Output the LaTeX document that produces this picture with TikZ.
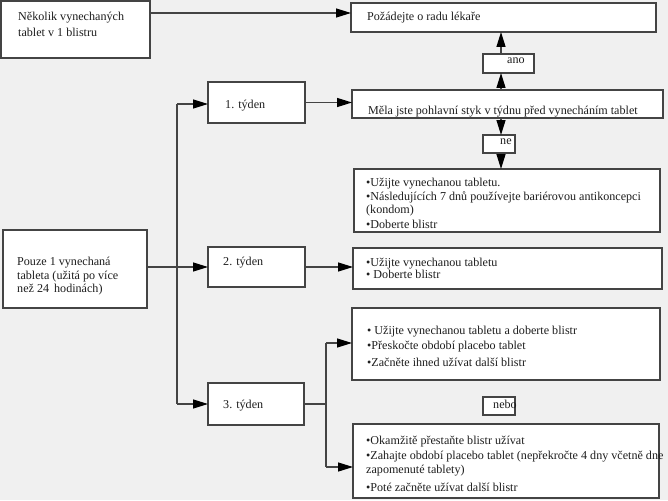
\documentclass[tikz,border=0pt]{standalone}
\usepackage{fontspec}
\setmainfont{Liberation Serif}
\usetikzlibrary{arrows.meta}
\definecolor{bg}{HTML}{F0F0F0}
\definecolor{edge}{HTML}{444444}
\definecolor{ink}{HTML}{1E1E1E}
\tikzset{
  box/.style={draw=edge, fill=white, line width=1.4pt, inner sep=0pt, outer sep=0pt, anchor=north west},
  txt/.style={font=\fontsize{12.1}{14}\selectfont, text=ink, inner sep=0pt, anchor=base west, yshift=-4pt},
  plain/.style={draw=edge, line width=1.3pt},
  conn/.style={plain, -{Triangle[length=15pt,width=9pt,color=black]}}
}
\begin{document}
\begin{tikzpicture}[x=1pt,y=-1pt]
\fill[bg] (0,0) rectangle (668,500);
\useasboundingbox (0,0) rectangle (668,500);

% boxes
\node[box, minimum width=149pt, minimum height=57pt] (A) at (1,1) {};
\node[box, minimum width=305pt, minimum height=29pt] (B) at (351,3) {};
\node[box, minimum width=51pt, minimum height=19pt] (ano) at (483,54) {};
\node[box, minimum width=97pt, minimum height=41pt] (w1) at (208,82) {};
\node[box, minimum width=311pt, minimum height=28pt] (M) at (352,90) {};
\node[box, minimum width=32pt, minimum height=18pt] (ne) at (483,135) {};
\node[box, minimum width=306pt, minimum height=63pt] (C) at (354,169) {};
\node[box, minimum width=144pt, minimum height=78pt] (D) at (3,230) {};
\node[box, minimum width=97pt, minimum height=40pt] (w2) at (208,247) {};
\node[box, minimum width=309pt, minimum height=41pt] (E) at (353,248) {};
\node[box, minimum width=308pt, minimum height=72pt] (F) at (352,308) {};
\node[box, minimum width=96pt, minimum height=42pt] (w3) at (208,383) {};
\node[box, minimum width=32pt, minimum height=18pt] (nebo) at (483,397) {};
\node[box, minimum width=306pt, minimum height=74pt] (G) at (353,424) {};

% texts
\node[txt] (tA1) at (18,17) {Několik vynechaných};
\node[txt] (tA2) at (18,33) {tablet v 1 blistru};
\node[txt] (tB) at (367,17) {Požádejte o radu lékaře};
\node[txt] (tano) at (507,60) {ano};
\node[txt] (tw1) at (225,104) {1. týden};
\node[txt] (tM) at (368,110) {Měla jste pohlavní styk v týdnu před vynecháním tablet};
\node[txt] (tne) at (500,140) {ne};
\node[txt] (tC1) at (366,182) {•Užijte vynechanou tabletu.};
\node[txt] (tC2) at (366,196) {•Následujících 7 dnů používejte bariérovou antikoncepci};
\node[txt] (tC3) at (366,209) {(kondom)};
\node[txt] (tC4) at (366,224) {•Doberte blistr};
\node[txt] (tD1) at (17,261) {Pouze 1 vynechaná};
\node[txt] (tD2) at (17,275) {tableta (užitá po více};
\node[txt] (tD3) at (17,288) {než 24\, hodinách)};
\node[txt] (tw2) at (223,261) {2. týden};
\node[txt] (tE1) at (366,262) {•Užijte vynechanou tabletu};
\node[txt] (tE2) at (366,274) {• Doberte blistr};
\node[txt] (tF1) at (367,330) {• Užijte vynechanou tabletu a doberte blistr};
\node[txt] (tF2) at (367,345) {•Přeskočte období placebo tablet};
\node[txt] (tF3) at (367,362) {•Začněte ihned užívat další blistr};
\node[txt] (tw3) at (223,404) {3. týden};
\node[txt] (tnebo) at (493,404) {nebo};
\node[txt] (tG1) at (366,440) {•Okamžitě přestaňte blistr užívat};
\node[txt] (tG2) at (366,455) {•Zahajte období placebo tablet (nepřekročte 4 dny včetně dne};
\node[txt] (tG3) at (366,469) {zapomenuté tablety)};
\node[txt] (tG4) at (366,487) {•Poté začněte užívat další blistr};

% helper coordinates
\coordinate (vx) at (501,0);
\coordinate (t1) at (177,104);
\coordinate (t3) at (177,404);
\coordinate (s) at (326,404);
\coordinate (sF) at (326,343);
\coordinate (sG) at (326,467);

% connectors
\draw[conn] ([yshift=-12pt]A.north east) -- ([yshift=-12pt]A.north east -| B.west);
\draw[conn] (M.north -| vx) -- (ano.south -| vx);
\draw[conn] (ano.north -| vx) -- (B.south -| vx);
\draw[conn] (w1.east) -- (w1.east -| M.west);
\draw[conn] (M.south -| vx) -- (ne.north -| vx);
\draw[conn] (ne.south -| vx) -- (C.north -| vx);
\draw[plain] (t1) -- (t3);
\draw[conn] (t1) -- (t1 -| w1.west);
\draw[conn] (w2.west -| D.east) -- (w2.west);
\draw[conn] (w2.east) -- (w2.east -| E.west);
\draw[conn] (t3) -- (t3 -| w3.west);
\draw[plain] (w3.east |- s) -- (s);
\draw[plain] (sF) -- (sG);
\draw[conn] (sF) -- (sF -| F.west);
\draw[conn] (sG) -- (sG -| G.west);
\end{tikzpicture}
\end{document}
